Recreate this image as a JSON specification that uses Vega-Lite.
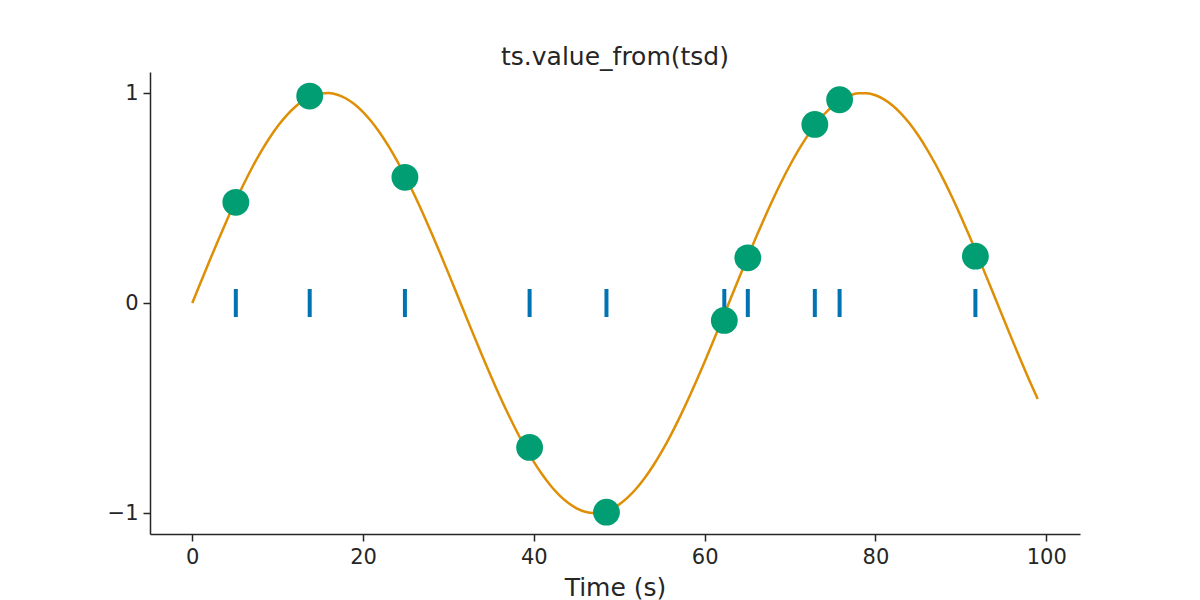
{
  "$schema": "https://vega.github.io/schema/vega-lite/v6.json",
  "autosize": {"type": "none"},
  "padding": {"left": 150, "top": 72, "right": 120, "bottom": 66},
  "width": 930,
  "height": 462,
  "background": "white",
  "config": {
    "view": {"stroke": null},
    "font": "DejaVu Sans",
    "axis": {
      "grid": false,
      "domainColor": "#262626",
      "domainWidth": 1.5,
      "tickColor": "#262626",
      "tickWidth": 1.5,
      "tickSize": 7,
      "labelFont": "DejaVu Sans",
      "labelFontSize": 21,
      "labelColor": "#262626",
      "titleFont": "DejaVu Sans",
      "titleFontSize": 25,
      "titleFontWeight": "normal",
      "titleColor": "#262626",
      "labelPadding": 5
    }
  },
  "title": {
    "text": "ts.value_from(tsd)",
    "font": "DejaVu Sans",
    "fontSize": 25,
    "fontWeight": "normal",
    "color": "#262626",
    "anchor": "middle",
    "offset": 2
  },
  "datasets": {
    "tsd": [
      {"t": 0, "v": 0}, {"t": 1, "v": 0.0998}, {"t": 2, "v": 0.1987}, {"t": 3, "v": 0.2955}, {"t": 4, "v": 0.3894},
      {"t": 5, "v": 0.4794}, {"t": 6, "v": 0.5646}, {"t": 7, "v": 0.6442}, {"t": 8, "v": 0.7174}, {"t": 9, "v": 0.7833},
      {"t": 10, "v": 0.8415}, {"t": 11, "v": 0.8912}, {"t": 12, "v": 0.9320}, {"t": 13, "v": 0.9636}, {"t": 14, "v": 0.9854},
      {"t": 15, "v": 0.9975}, {"t": 16, "v": 0.9996}, {"t": 17, "v": 0.9917}, {"t": 18, "v": 0.9738}, {"t": 19, "v": 0.9463},
      {"t": 20, "v": 0.9093}, {"t": 21, "v": 0.8632}, {"t": 22, "v": 0.8085}, {"t": 23, "v": 0.7457}, {"t": 24, "v": 0.6755},
      {"t": 25, "v": 0.5985}, {"t": 26, "v": 0.5155}, {"t": 27, "v": 0.4274}, {"t": 28, "v": 0.3350}, {"t": 29, "v": 0.2392},
      {"t": 30, "v": 0.1411}, {"t": 31, "v": 0.0416}, {"t": 32, "v": -0.0584}, {"t": 33, "v": -0.1577}, {"t": 34, "v": -0.2555},
      {"t": 35, "v": -0.3508}, {"t": 36, "v": -0.4425}, {"t": 37, "v": -0.5298}, {"t": 38, "v": -0.6119}, {"t": 39, "v": -0.6878},
      {"t": 40, "v": -0.7568}, {"t": 41, "v": -0.8183}, {"t": 42, "v": -0.8716}, {"t": 43, "v": -0.9162}, {"t": 44, "v": -0.9516},
      {"t": 45, "v": -0.9775}, {"t": 46, "v": -0.9937}, {"t": 47, "v": -0.9999}, {"t": 48, "v": -0.9962}, {"t": 49, "v": -0.9825},
      {"t": 50, "v": -0.9589}, {"t": 51, "v": -0.9258}, {"t": 52, "v": -0.8835}, {"t": 53, "v": -0.8323}, {"t": 54, "v": -0.7728},
      {"t": 55, "v": -0.7055}, {"t": 56, "v": -0.6313}, {"t": 57, "v": -0.5507}, {"t": 58, "v": -0.4646}, {"t": 59, "v": -0.3739},
      {"t": 60, "v": -0.2794}, {"t": 61, "v": -0.1822}, {"t": 62, "v": -0.0831}, {"t": 63, "v": 0.0168}, {"t": 64, "v": 0.1165},
      {"t": 65, "v": 0.2151}, {"t": 66, "v": 0.3115}, {"t": 67, "v": 0.4048}, {"t": 68, "v": 0.4941}, {"t": 69, "v": 0.5784},
      {"t": 70, "v": 0.6570}, {"t": 71, "v": 0.7290}, {"t": 72, "v": 0.7937}, {"t": 73, "v": 0.8504}, {"t": 74, "v": 0.8987},
      {"t": 75, "v": 0.9380}, {"t": 76, "v": 0.9679}, {"t": 77, "v": 0.9882}, {"t": 78, "v": 0.9985}, {"t": 79, "v": 0.9989},
      {"t": 80, "v": 0.9894}, {"t": 81, "v": 0.9699}, {"t": 82, "v": 0.9407}, {"t": 83, "v": 0.9022}, {"t": 84, "v": 0.8546},
      {"t": 85, "v": 0.7985}, {"t": 86, "v": 0.7344}, {"t": 87, "v": 0.6630}, {"t": 88, "v": 0.5849}, {"t": 89, "v": 0.5010},
      {"t": 90, "v": 0.4121}, {"t": 91, "v": 0.3191}, {"t": 92, "v": 0.2229}, {"t": 93, "v": 0.1245}, {"t": 94, "v": 0.0248},
      {"t": 95, "v": -0.0752}, {"t": 96, "v": -0.1743}, {"t": 97, "v": -0.2718}, {"t": 98, "v": -0.3665}, {"t": 99, "v": -0.4575}
    ],
    "ts": [
      {"t": 5.1, "v": 0.4794, "zero": 0},
      {"t": 13.75, "v": 0.9854, "zero": 0},
      {"t": 24.9, "v": 0.5985, "zero": 0},
      {"t": 39.5, "v": -0.6878, "zero": 0},
      {"t": 48.5, "v": -0.9962, "zero": 0},
      {"t": 62.3, "v": -0.0831, "zero": 0},
      {"t": 65.05, "v": 0.2151, "zero": 0},
      {"t": 72.9, "v": 0.8504, "zero": 0},
      {"t": 75.8, "v": 0.9679, "zero": 0},
      {"t": 91.7, "v": 0.2229, "zero": 0}
    ]
  },
  "encoding": {
    "x": {
      "field": "t",
      "type": "quantitative",
      "scale": {"domain": [-4.95, 103.95], "nice": false, "zero": false},
      "axis": {"values": [0, 20, 40, 60, 80, 100], "title": "Time (s)", "titlePadding": 8}
    }
  },
  "layer": [
    {
      "data": {"name": "tsd"},
      "mark": {"type": "line", "color": "#DE8F05", "strokeWidth": 2.5, "interpolate": "monotone"},
      "encoding": {
        "y": {
          "field": "v",
          "type": "quantitative",
          "scale": {"domain": [-1.1, 1.1], "nice": false, "zero": false},
          "axis": {"values": [-1, 0, 1], "title": null, "format": "d"}
        }
      }
    },
    {
      "data": {"name": "ts"},
      "mark": {"type": "tick", "orient": "vertical", "color": "#0173B2", "size": 28, "thickness": 4, "opacity": 1},
      "encoding": {
        "y": {"field": "zero", "type": "quantitative"}
      }
    },
    {
      "data": {"name": "ts"},
      "mark": {"type": "circle", "color": "#029E73", "size": 720, "opacity": 1},
      "encoding": {
        "y": {"field": "v", "type": "quantitative"}
      }
    }
  ]
}
